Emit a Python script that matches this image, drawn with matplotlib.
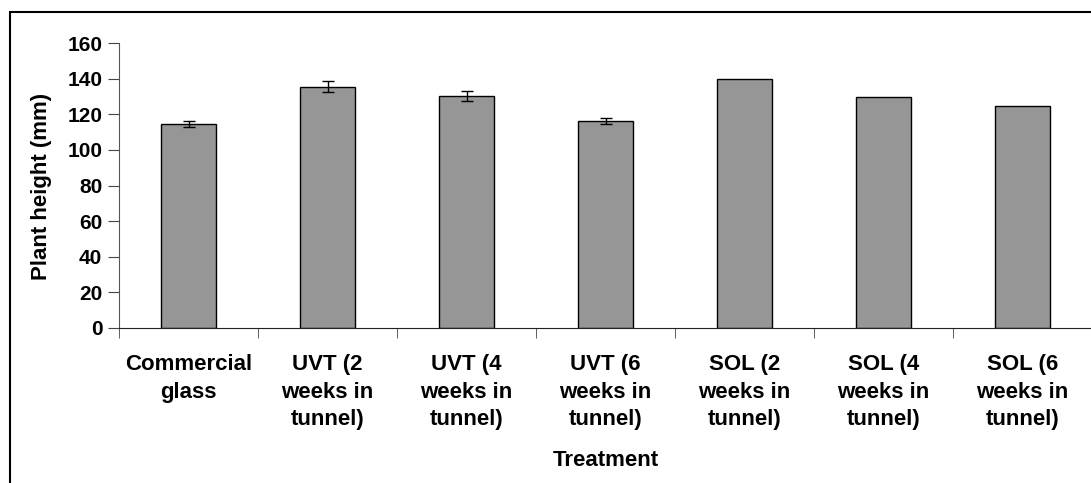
import numpy as np
import matplotlib.pyplot as plt
from matplotlib.patches import Rectangle

# data
treatments = ['Commercial\nglass', 'UVT (2\nweeks in\ntunnel)', 'UVT (4\nweeks in\ntunnel)',
              'UVT (6\nweeks in\ntunnel)', 'SOL (2\nweeks in\ntunnel)', 'SOL (4\nweeks in\ntunnel)',
              'SOL (6\nweeks in\ntunnel)']
height = [114.6, 135.6, 130.4, 116.1, 140.1, 129.6, 124.5]
err = [1.5, 3.1, 2.6, 1.6, 0, 0, 0]
yticks = [0, 20, 40, 60, 80, 100, 120, 140, 160]

plt.rcParams['font.family'] = ['Liberation Sans', 'DejaVu Sans']
plt.rcParams['font.weight'] = 'bold'

fig = plt.figure(figsize=(10.91, 4.83), dpi=100)
ax = fig.add_axes([119 / 1091, 1 - 327.7 / 483, 973 / 1091, 284.4 / 483])

x = np.arange(len(treatments))
ax.bar(x, height, width=0.4, color='#969696', edgecolor='black', linewidth=1.0, zorder=2)
ax.errorbar(x[:4], height[:4], yerr=err[:4], fmt='none', ecolor='black',
            elinewidth=1.0, capsize=4, capthick=1.0, zorder=3)

ax.set_xlim(-0.5, len(treatments) - 0.5)
ax.set_ylim(0, 160)
ax.set_yticks(yticks)
ax.set_yticklabels([str(v) for v in yticks], fontsize=15, fontweight='bold')

ax.set_xticks(x)
ax.set_xticklabels(treatments, fontsize=16, fontweight='bold', linespacing=1.41)
ax.set_xticks(np.arange(-0.5, len(treatments), 1.0), minor=True)
ax.tick_params(axis='x', which='major', length=0, pad=19)
ax.tick_params(axis='x', which='minor', length=7, direction='out', color='#444444')
ax.tick_params(axis='y', length=8, direction='out', color='#444444', pad=4)

for s in ['top', 'right']:
    ax.spines[s].set_visible(False)
ax.spines['left'].set_color('#555555')
ax.spines['bottom'].set_color('#222222')

ax.set_ylabel('Plant height (mm)', fontsize=16, fontweight='bold', va='center')
ax.yaxis.set_label_coords((41.5 - 119) / 973, (327.7 - 186.5) / 284.4)
ax.set_xlabel('Treatment', fontsize=16, fontweight='bold', va='center')
ax.xaxis.set_label_coords(0.5, (327.7 - 460) / 284.4)

# outer chart-area border (cut at right/bottom in the original)
fig.add_artist(Rectangle((9.5 / 1091, -0.05), 1.1, 1 - 12.5 / 483 + 0.05, transform=fig.transFigure,
                         fill=False, edgecolor='black', linewidth=1.5, clip_on=False))

fig.savefig('out.png', dpi=100)
